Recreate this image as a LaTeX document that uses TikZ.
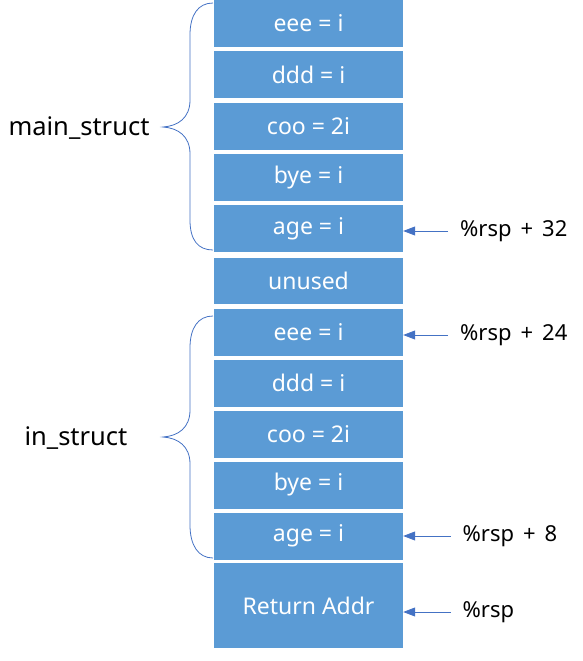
\documentclass[tikz,border=0pt]{standalone}
\usepackage{fontspec}
\setmainfont{Noto Sans}
\usetikzlibrary{arrows.meta}
\definecolor{boxblue}{HTML}{5B9BD5}
\definecolor{linblue}{HTML}{4472C4}
\newcommand{\gapsp}{\hspace{9pt}}
\tikzset{
  cell/.style={fill=boxblue,draw=none,text=white,minimum width=189pt,minimum height=47pt,inner sep=0pt,font=\fontsize{23}{27}\selectfont},
  lab/.style={inner sep=0pt,anchor=west,font=\fontsize{22}{26}\selectfont,text=black},
  side/.style={inner sep=0pt,font=\fontsize{25.5}{30}\selectfont,text=black},
  arr/.style={draw=linblue,line width=0.8pt,-{Triangle[length=12pt,width=9pt]}},
  brace/.style={draw=linblue,line width=0.8pt},
}
\begin{document}
\begin{tikzpicture}[x=1pt,y=-1pt]
\useasboundingbox (0,0) rectangle (583,661);
\def\cx{308.5}
\node[cell] (m1) at (\cx,23.5) {eee = i};
\node[cell] (m2) at (\cx,74.75) {ddd = i};
\node[cell] (m3) at (\cx,126) {coo = 2i};
\node[cell] (m4) at (\cx,177.25) {bye = i};
\node[cell] (m5) at (\cx,228.5) {age = i};
\node[cell,minimum height=46pt] (u) at (\cx,281.3) {unused};
\node[cell] (i1) at (\cx,332) {eee = i};
\node[cell] (i2) at (\cx,383) {ddd = i};
\node[cell] (i3) at (\cx,434) {coo = 2i};
\node[cell] (i4) at (\cx,485) {bye = i};
\node[cell] (i5) at (\cx,536) {age = i};
\node[cell,minimum height=84.4pt] (ra) at (\cx,605.5) {Return Addr};

\node[lab] (l1) at (460,231) {\%rsp\gapsp+\gapsp32};
\node[lab] (l2) at (460,335) {\%rsp\gapsp+\gapsp24};
\node[lab] (l3) at (462.5,536) {\%rsp\gapsp+\gapsp8};
\node[lab] (l4) at (462.5,612) {\%rsp};
\draw[arr] ([xshift=-12pt]l1.west) -- (l1.west -| m5.east);
\draw[arr] ([xshift=-12pt]l2.west) -- (l2.west -| i1.east);
\draw[arr] ([xshift=-12pt]l3.west) -- (l3.west -| i5.east);
\draw[arr] ([xshift=-12pt]l4.west) -- (l4.west -| ra.east);

\node[side] (ms) at (79,128) {main\_struct};
\node[side] (is) at (76,438) {in\_struct};

\draw[brace] (213,3) .. controls (198,3) and (190,15) .. (190,35) -- (190,100)
  .. controls (190,118) and (178,126) .. (163,127)
  .. controls (178,128) and (190,136) .. (190,154) -- (190,220)
  .. controls (190,240) and (198,250) .. (213,250);
\draw[brace] (213,316) .. controls (198,316) and (190,328) .. (190,348) -- (190,410)
  .. controls (190,428) and (178,436) .. (163,437)
  .. controls (178,438) and (190,446) .. (190,464) -- (190,525)
  .. controls (190,545) and (198,558) .. (213,558);
\end{tikzpicture}
\end{document}
